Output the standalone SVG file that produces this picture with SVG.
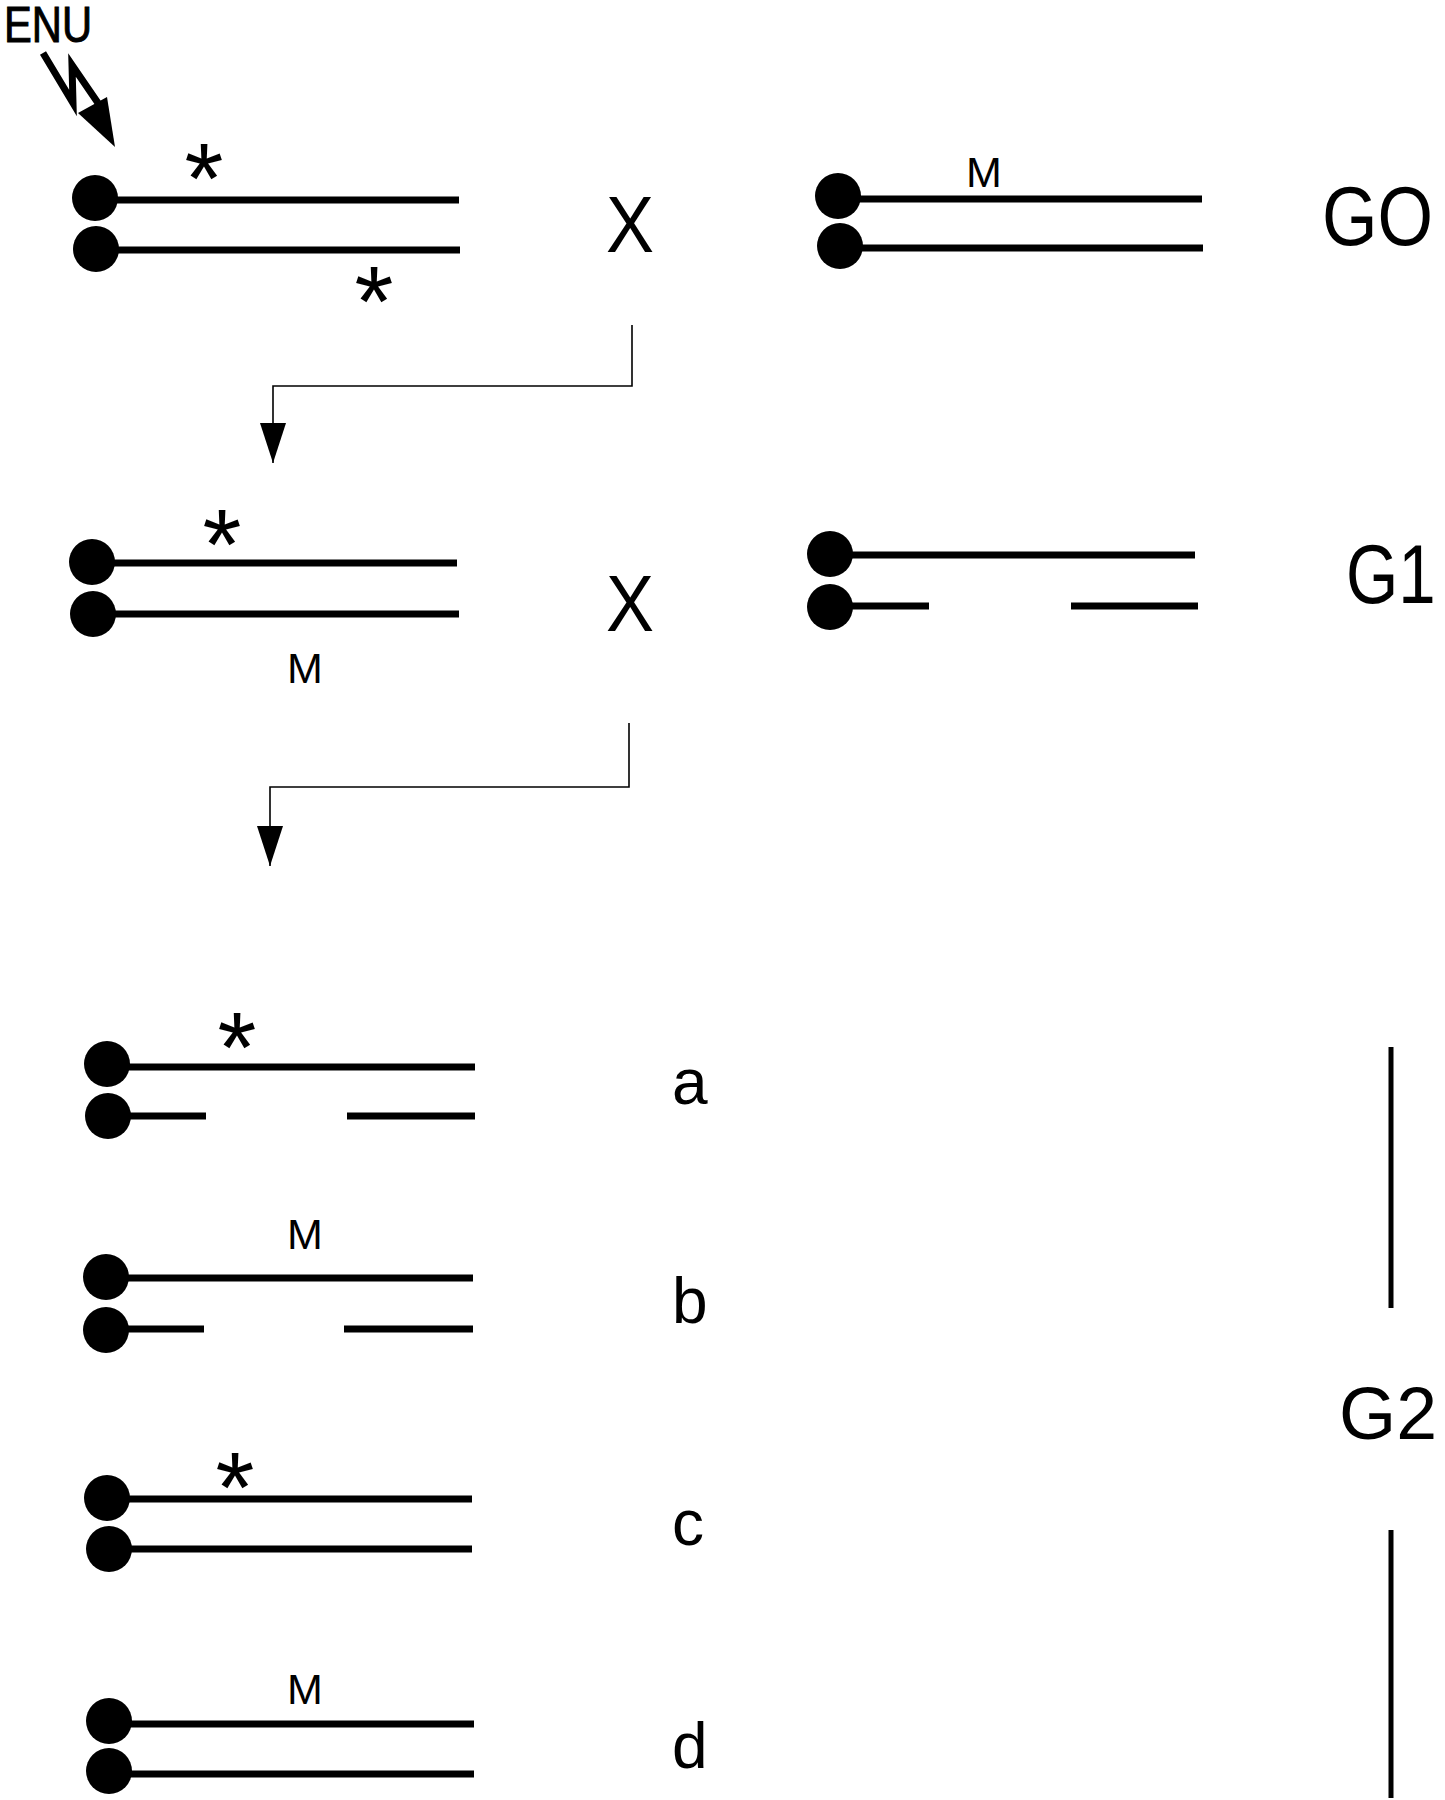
<svg xmlns="http://www.w3.org/2000/svg" width="1445" height="1800" viewBox="0 0 1445 1800">
<style>
.bg{fill:#fff}
.arm{stroke:#000;stroke-width:7;fill:none}
.cen{fill:#000}
.con{stroke:#000;stroke-width:1.6;fill:none}
.bar{stroke:#000;stroke-width:5}
.t{font-family:"Liberation Sans",Arial,sans-serif;fill:#000}
.ast{font-size:100px;text-anchor:middle}
.m{font-size:43px;text-anchor:middle}
.gen{font-size:84px}
.x{font-size:80px}
.lab{font-size:64px}
</style>
<defs>
<marker id="ah" viewBox="0 0 40 26" refX="40" refY="13" markerWidth="40" markerHeight="26" markerUnits="userSpaceOnUse" orient="auto">
<path d="M0,0 L40,13 L0,26 Z" fill="#000"/>
</marker>
</defs>
<rect class="bg" x="0" y="0" width="1445" height="1800"/>

<g id="enu">
<text class="t" x="4" y="42" font-size="50" textLength="88" lengthAdjust="spacingAndGlyphs" stroke="#000" stroke-width="1">ENU</text>
<path d="M43,53 L73,103 L72,65 L98,103" stroke="#000" stroke-width="7" fill="none"/>
<polygon points="78,113 107,97 115,147" fill="#000"/>
</g>

<g id="g0-left">
<line class="arm" x1="95" y1="200" x2="459" y2="200"/>
<line class="arm" x1="96" y1="250" x2="460" y2="250"/>
<circle class="cen" cx="95" cy="198" r="23"/>
<circle class="cen" cx="96" cy="249" r="23"/>
<text class="t ast" x="204" y="213">*</text>
<text class="t ast" x="374" y="336">*</text>
</g>

<g id="x1"><text class="t x" x="606" y="252" textLength="48" lengthAdjust="spacingAndGlyphs">X</text></g>

<g id="g0-right">
<line class="arm" x1="838" y1="199" x2="1202" y2="199"/>
<line class="arm" x1="840" y1="248" x2="1203" y2="248"/>
<circle class="cen" cx="838" cy="196" r="23"/>
<circle class="cen" cx="840" cy="246" r="23"/>
<text class="t m" x="984" y="187">M</text>
</g>

<g id="label-g0"><text class="t gen" transform="translate(1322,245) scale(0.85,1)" x="0" y="0">GO</text></g>

<g id="g1-left">
<line class="arm" x1="92" y1="563" x2="457" y2="563"/>
<line class="arm" x1="93" y1="614" x2="459" y2="614"/>
<circle class="cen" cx="92" cy="562" r="23"/>
<circle class="cen" cx="93" cy="614" r="23"/>
<text class="t ast" x="222" y="579">*</text>
<text class="t m" x="305" y="683">M</text>
</g>

<g id="x2"><text class="t x" x="606" y="631" textLength="48" lengthAdjust="spacingAndGlyphs">X</text></g>

<g id="g1-right">
<line class="arm" x1="830" y1="555" x2="1195" y2="555"/>
<line class="arm" x1="830" y1="606" x2="929" y2="606"/>
<line class="arm" x1="1071" y1="606" x2="1198" y2="606"/>
<circle class="cen" cx="830" cy="554" r="23"/>
<circle class="cen" cx="830" cy="607" r="23"/>
</g>

<g id="label-g1"><text class="t gen" transform="translate(1346,603) scale(0.8,1)" x="0" y="0">G1</text></g>

<g id="connectors">
<path class="con" d="M632,325 L632,386 L273,386 L273,463" marker-end="url(#ah)"/>
<path class="con" d="M629,723 L629,787 L270,787 L270,866" marker-end="url(#ah)"/>
</g>

<g id="g2-a">
<line class="arm" x1="107" y1="1067" x2="475" y2="1067"/>
<line class="arm" x1="108" y1="1116" x2="206" y2="1116"/>
<line class="arm" x1="347" y1="1116" x2="475" y2="1116"/>
<circle class="cen" cx="107" cy="1064" r="23"/>
<circle class="cen" cx="108" cy="1116" r="23"/>
<text class="t ast" x="237" y="1082">*</text>
<text class="t lab" x="672" y="1104">a</text>
</g>

<g id="g2-b">
<line class="arm" x1="106" y1="1278" x2="473" y2="1278"/>
<line class="arm" x1="106" y1="1329" x2="204" y2="1329"/>
<line class="arm" x1="344" y1="1329" x2="473" y2="1329"/>
<circle class="cen" cx="106" cy="1277" r="23"/>
<circle class="cen" cx="106" cy="1330" r="23"/>
<text class="t m" x="305" y="1249">M</text>
<text class="t lab" x="672" y="1323">b</text>
</g>

<g id="g2-c">
<line class="arm" x1="107" y1="1499" x2="472" y2="1499"/>
<line class="arm" x1="109" y1="1549" x2="472" y2="1549"/>
<circle class="cen" cx="107" cy="1498" r="23"/>
<circle class="cen" cx="109" cy="1549" r="23"/>
<text class="t ast" x="235" y="1522">*</text>
<text class="t lab" x="672" y="1545">c</text>
</g>

<g id="g2-d">
<line class="arm" x1="109" y1="1724" x2="474" y2="1724"/>
<line class="arm" x1="109" y1="1774" x2="474" y2="1774"/>
<circle class="cen" cx="109" cy="1721" r="23"/>
<circle class="cen" cx="109" cy="1771" r="23"/>
<text class="t m" x="305" y="1704">M</text>
<text class="t lab" x="672" y="1768">d</text>
</g>

<g id="label-g2">
<line class="bar" x1="1391" y1="1047" x2="1391" y2="1308"/>
<text class="t" x="1339" y="1439" font-size="74" textLength="98" lengthAdjust="spacingAndGlyphs">G2</text>
<line class="bar" x1="1391" y1="1530" x2="1391" y2="1798"/>
</g>
</svg>
